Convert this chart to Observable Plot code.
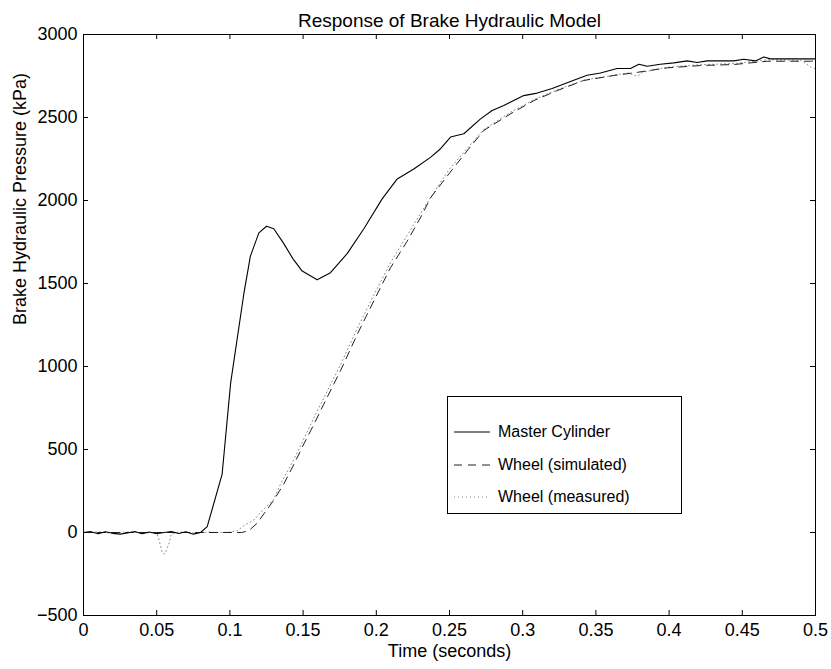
<!DOCTYPE html>
<html>
<head>
<meta charset="utf-8">
<script src="https://cdn.jsdelivr.net/npm/d3@7"></script>
<script src="https://cdn.jsdelivr.net/npm/@observablehq/plot@0.6"></script>
<style>
  body { margin: 0; background: #fff; }
  #wrap { position: relative; width: 831px; height: 669px; font-family: "Liberation Sans", Arial, sans-serif; }
  #legend { position: absolute; left: 447px; top: 396px; width: 233px; height: 116px; border: 1px solid #000; background: #fff; font-size: 16px; }
  .entry { position: absolute; left: 6px; height: 20px; display: flex; align-items: center; }
  .entry svg { width: 36px; height: 10px; margin-right: 8px; }
</style>
</head>
<body>
<div id="wrap"><div id="legend"></div></div>
<script>
// ---- data ----
const title = "Response of Brake Hydraulic Model";
const xLabel = "Time (seconds)";
const yLabel = "Brake Hydraulic Pressure (kPa)";
const xTicks = [0, 0.05, 0.1, 0.15, 0.2, 0.25, 0.3, 0.35, 0.4, 0.45, 0.5];
const xTickLabels = ["0", "0.05", "0.1", "0.15", "0.2", "0.25", "0.3", "0.35", "0.4", "0.45", "0.5"];
const yTicks = [-500, 0, 500, 1000, 1500, 2000, 2500, 3000];
const yTickLabels = ["\u2212500", "0", "500", "1000", "1500", "2000", "2500", "3000"];
const seriesNames = ["Master Cylinder", "Wheel (simulated)", "Wheel (measured)"];

const masterT = [0, 0.005, 0.01, 0.015, 0.02, 0.025, 0.03, 0.035, 0.04, 0.045, 0.05, 0.055, 0.06, 0.065, 0.07, 0.075, 0.08, 0.0845, 0.0947, 0.1005, 0.1095, 0.114, 0.1198, 0.125, 0.13, 0.1368, 0.143, 0.1494, 0.1596, 0.1687, 0.1801, 0.1915, 0.204, 0.2143, 0.2256, 0.237, 0.2439, 0.2507, 0.2598, 0.2712, 0.2791, 0.2871, 0.3007, 0.3099, 0.3201, 0.3349, 0.344, 0.3531, 0.3645, 0.3736, 0.3794, 0.385, 0.394, 0.4032, 0.4124, 0.4192, 0.426, 0.4442, 0.451, 0.459, 0.4647, 0.4693, 0.5];
const masterV = [0, 5, -8, 5, -5, -10, -3, 6, -8, 3, -7, 0, 6, -6, 4, -10, 0, 35, 352, 900, 1437, 1665, 1805, 1845, 1830, 1740, 1650, 1575, 1522, 1565, 1680, 1830, 2010, 2130, 2190, 2260, 2312, 2382, 2402, 2492, 2542, 2572, 2632, 2647, 2675, 2725, 2755, 2768, 2795, 2795, 2821, 2809, 2821, 2829, 2841, 2831, 2841, 2841, 2851, 2841, 2865, 2853, 2853];

const simT = [0, 0.05, 0.1, 0.108, 0.1129, 0.1185, 0.1232, 0.13, 0.1368, 0.1437, 0.1505, 0.1573, 0.1641, 0.1755, 0.187, 0.1983, 0.2097, 0.2211, 0.2314, 0.237, 0.25, 0.2632, 0.2734, 0.2917, 0.3076, 0.3236, 0.3417, 0.3622, 0.3782, 0.3987, 0.4215, 0.4442, 0.467, 0.4966, 0.5];
const simV = [0, 0, 0, 0, 11, 55, 112, 195, 292, 410, 533, 650, 773, 974, 1194, 1395, 1595, 1755, 1916, 2016, 2165, 2312, 2422, 2522, 2602, 2662, 2723, 2753, 2772, 2799, 2813, 2819, 2839, 2839, 2842];

const measT = [0, 0.01, 0.02, 0.03, 0.04, 0.05, 0.0514, 0.0537, 0.0555, 0.0583, 0.06, 0.065, 0.075, 0.085, 0.095, 0.1, 0.105, 0.1095, 0.1163, 0.1232, 0.13, 0.1346, 0.1437, 0.1505, 0.1573, 0.1641, 0.1755, 0.187, 0.1983, 0.2097, 0.2211, 0.2314, 0.2439, 0.25, 0.2632, 0.2734, 0.2917, 0.3076, 0.3236, 0.3417, 0.3622, 0.372, 0.3782, 0.382, 0.3987, 0.4215, 0.4442, 0.467, 0.49, 0.497, 0.5];
const measV = [0, 4, -4, 3, -3, 0, -38, -119, -130, -69, -10, 3, -2, 2, 0, 3, 10, 41, 75, 142, 200, 292, 440, 565, 690, 810, 1010, 1230, 1430, 1625, 1790, 1940, 2110, 2190, 2325, 2427, 2532, 2607, 2667, 2725, 2755, 2768, 2748, 2773, 2803, 2818, 2825, 2848, 2845, 2803, 2793];

// ---- build ----
const master = masterT.map((t, i) => ({t, v: masterV[i]}));
const sim = simT.map((t, i) => ({t, v: simV[i]}));
const meas = measT.map((t, i) => ({t, v: measV[i]}));

const W = 831, H = 669, mL = 83, mR = 16, mT = 34, mB = 54;
const fw = W - mL - mR, fh = H - mT - mB, tk = 5;
const font = "\"Liberation Sans\", Arial, sans-serif";

const chart = Plot.plot({
  width: W, height: H,
  marginLeft: mL, marginRight: mR, marginTop: mT, marginBottom: mB,
  style: {fontFamily: font, fontSize: "18px", color: "#000", background: "#fff"},
  x: {domain: [0, 0.5]},
  y: {domain: [-500, 3000]},
  marks: [
    Plot.line(meas, {x: "t", y: "v", stroke: "#8a8a8a", strokeWidth: 1, strokeDasharray: "1,3"}),
    Plot.line(sim, {x: "t", y: "v", stroke: "#222", strokeWidth: 1, strokeDasharray: "8,6"}),
    Plot.line(master, {x: "t", y: "v", stroke: "#000", strokeWidth: 1.1}),
    Plot.frame({stroke: "#000", strokeWidth: 1}),
    Plot.ruleX(xTicks, {x: d => d, insetTop: fh - tk, stroke: "#000"}),
    Plot.ruleX(xTicks, {x: d => d, insetBottom: fh - tk, stroke: "#000"}),
    Plot.ruleY(yTicks, {y: d => d, insetRight: fw - tk, stroke: "#000"}),
    Plot.ruleY(yTicks, {y: d => d, insetLeft: fw - tk, stroke: "#000"}),
    Plot.axisX({ticks: xTicks, tickSize: 0, tickPadding: 8, tickFormat: (d, i) => xTickLabels[i], label: null, fontSize: 18}),
    Plot.axisY({ticks: yTicks, tickSize: 0, tickPadding: 6, tickFormat: (d, i) => yTickLabels[i], label: null, fontSize: 18}),
    Plot.text([title], {frameAnchor: "top", dy: -21, fontSize: 19}),
    Plot.text([xLabel], {frameAnchor: "bottom", dy: 41, fontSize: 18}),
    Plot.text([yLabel], {frameAnchor: "left", dx: -63, rotate: -90, fontSize: 18})
  ]
});
document.getElementById("wrap").prepend(chart);

// legend
const legend = document.getElementById("legend");
const styles = [
  {stroke: "#000", dash: null},
  {stroke: "#222", dash: "8,6"},
  {stroke: "#8a8a8a", dash: "1,3"}
];
const tops = [35, 68, 100];
seriesNames.forEach((name, i) => {
  const e = document.createElement("div");
  e.className = "entry";
  e.style.top = (tops[i] - 10) + "px";
  e.innerHTML = `<svg viewBox="0 0 36 10"><line x1="0" x2="36" y1="5" y2="5" stroke="${styles[i].stroke}" stroke-width="1" ${styles[i].dash ? `stroke-dasharray="${styles[i].dash}"` : ""}/></svg><span>${name}</span>`;
  legend.appendChild(e);
});
</script>
</body>
</html>
